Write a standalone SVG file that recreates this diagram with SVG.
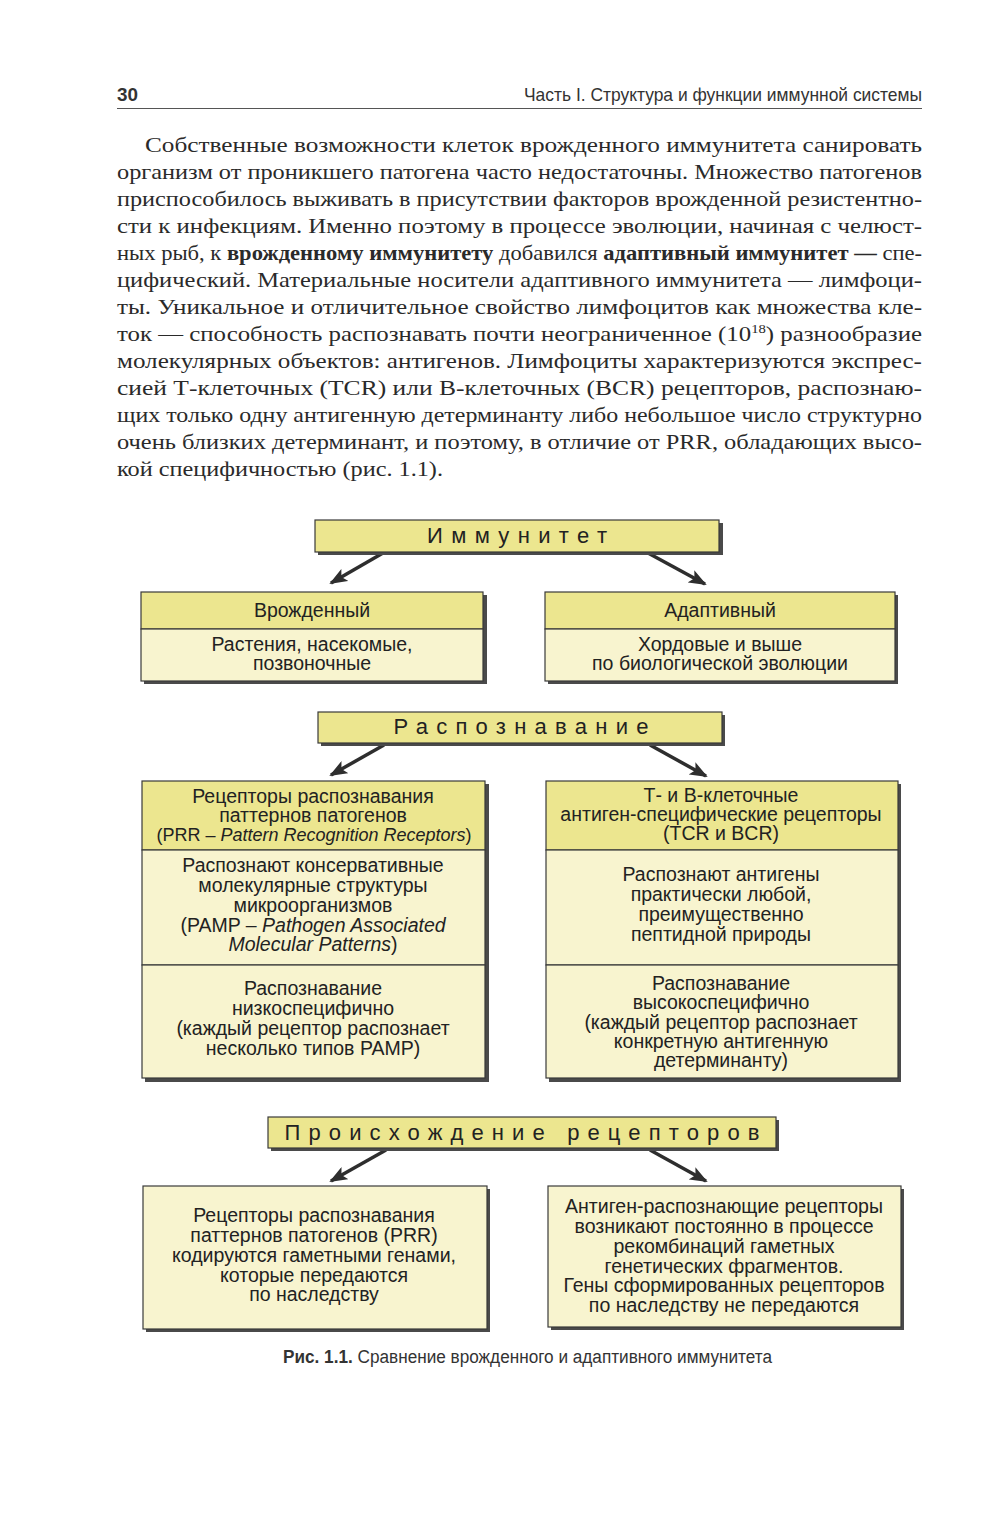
<svg xmlns="http://www.w3.org/2000/svg" width="1000" height="1527" viewBox="0 0 1000 1527">
<style>
.para{font-family:"Liberation Serif","Times New Roman",serif;font-size:22px;fill:#2a2a2a}
.b{font-weight:bold}
.hdr{font-family:"Liberation Sans",Arial,sans-serif;font-size:19px;fill:#333}
.ttl{font-family:"Liberation Sans",Arial,sans-serif;font-size:22px;fill:#222;text-anchor:middle}
.bx{font-family:"Liberation Sans",Arial,sans-serif;font-size:19.5px;fill:#222;text-anchor:middle}
.sm{font-size:18px}
.it{font-style:italic}
.head{fill:#ece68f;stroke:#3a3a3a;stroke-width:1.2}
.body{fill:#f8f4cf;stroke:#3a3a3a;stroke-width:1.2}
.shadow{fill:#4a4a4a}
.conn{stroke:#2e2e2e;stroke-width:3.5;fill:none;marker-end:url(#ah)}
.cap{font-family:"Liberation Sans",Arial,sans-serif;font-size:18px;fill:#333}
</style>
<defs>
<marker id="ah" viewBox="0 0 18 14" refX="16" refY="7" markerWidth="18" markerHeight="14" markerUnits="userSpaceOnUse" orient="auto">
<path d="M0,0 L18,7 L0,14 L4,7 z" fill="#2e2e2e"/>
</marker>
</defs>
<rect width="1000" height="1527" fill="#ffffff"/>

<!-- page header -->
<g id="page-header">
<text x="117" y="101" class="hdr b" textLength="21" lengthAdjust="spacingAndGlyphs">30</text>
<text x="524" y="101" class="hdr" textLength="398" lengthAdjust="spacingAndGlyphs">Часть I. Структура и функции иммунной системы</text>
<line x1="117" y1="108.5" x2="922" y2="108.5" stroke="#555" stroke-width="1.2"/>
</g>

<!-- paragraph -->
<g id="paragraph" class="para">
<text x="145" y="152" textLength="777" lengthAdjust="spacingAndGlyphs">Собственные возможности клеток врожденного иммунитета санировать</text>
<text x="117" y="179" textLength="805" lengthAdjust="spacingAndGlyphs">организм от проникшего патогена часто недостаточны. Множество патогенов</text>
<text x="117" y="206" textLength="805" lengthAdjust="spacingAndGlyphs">приспособилось выживать в присутствии факторов врожденной резистентно-</text>
<text x="117" y="233" textLength="805" lengthAdjust="spacingAndGlyphs">сти к инфекциям. Именно поэтому в процессе эволюции, начиная с челюст-</text>
<text x="117" y="260" textLength="805" lengthAdjust="spacingAndGlyphs">ных рыб, к <tspan class="b">врожденному иммунитету</tspan> добавился <tspan class="b">адаптивный иммунитет —</tspan> спе-</text>
<text x="117" y="287" textLength="805" lengthAdjust="spacingAndGlyphs">цифический. Материальные носители адаптивного иммунитета — лимфоци-</text>
<text x="117" y="314" textLength="805" lengthAdjust="spacingAndGlyphs">ты. Уникальное и отличительное свойство лимфоцитов как множества кле-</text>
<text x="117" y="341" textLength="805" lengthAdjust="spacingAndGlyphs">ток — способность распознавать почти неограниченное (10<tspan dy="-8" font-size="13">18</tspan><tspan dy="8">) разнообразие</tspan></text>
<text x="117" y="368" textLength="805" lengthAdjust="spacingAndGlyphs">молекулярных объектов: антигенов. Лимфоциты характеризуются экспрес-</text>
<text x="117" y="395" textLength="805" lengthAdjust="spacingAndGlyphs">сией Т-клеточных (TCR) или В-клеточных (BCR) рецепторов, распознаю-</text>
<text x="117" y="422" textLength="805" lengthAdjust="spacingAndGlyphs">щих только одну антигенную детерминанту либо небольшое число структурно</text>
<text x="117" y="449" textLength="805" lengthAdjust="spacingAndGlyphs">очень близких детерминант, и поэтому, в отличие от PRR, обладающих высо-</text>
<text x="117" y="476" textLength="326" lengthAdjust="spacingAndGlyphs">кой специфичностью (рис. 1.1).</text>
</g>

<!-- connectors -->
<g id="connectors">
<line class="conn" x1="383" y1="553" x2="331" y2="583"/>
<line class="conn" x1="648" y1="553" x2="705" y2="584"/>
<line class="conn" x1="384" y1="745" x2="331" y2="775"/>
<line class="conn" x1="650" y1="745" x2="706" y2="776"/>
<line class="conn" x1="386" y1="1150" x2="331" y2="1181"/>
<line class="conn" x1="650" y1="1150" x2="706" y2="1181"/>
</g>

<!-- Иммунитет -->
<g id="n-immunity">
<rect class="shadow" x="318" y="523" width="405" height="32"/>
<rect class="head" x="315" y="520" width="404" height="32"/>
<text class="ttl" x="517" y="543" textLength="180" lengthAdjust="spacing">Иммунитет</text>
</g>

<!-- Врожденный -->
<g id="n-innate">
<rect class="shadow" x="144" y="595" width="343" height="89"/>
<rect class="head" x="141" y="592" width="342" height="37"/>
<rect class="body" x="141" y="629" width="342" height="52"/>
<text class="bx" x="312" y="617">Врожденный</text>
<text class="bx" x="312" y="651">Растения, насекомые,</text>
<text class="bx" x="312" y="670">позвоночные</text>
</g>

<!-- Адаптивный -->
<g id="n-adaptive">
<rect class="shadow" x="548" y="595" width="350" height="89"/>
<rect class="head" x="545" y="592" width="350" height="37"/>
<rect class="body" x="545" y="629" width="350" height="52"/>
<text class="bx" x="720" y="617">Адаптивный</text>
<text class="bx" x="720" y="651">Хордовые и выше</text>
<text class="bx" x="720" y="670">по биологической эволюции</text>
</g>

<!-- Распознавание -->
<g id="n-recognition">
<rect class="shadow" x="321" y="715" width="404" height="31"/>
<rect class="head" x="318" y="712" width="404" height="31"/>
<text class="ttl" x="521" y="734" textLength="255" lengthAdjust="spacing">Распознавание</text>
</g>

<!-- PRR -->
<g id="n-prr">
<rect class="shadow" x="145" y="784" width="344" height="298"/>
<rect class="head" x="142" y="781" width="343" height="69"/>
<rect class="body" x="142" y="850" width="343" height="115"/>
<rect class="body" x="142" y="965" width="343" height="113"/>
<text class="bx" x="313" y="803">Рецепторы распознавания</text>
<text class="bx" x="313" y="822">паттернов патогенов</text>
<text class="bx sm" x="314" y="841">(PRR – <tspan class="it">Pattern Recognition Receptors</tspan>)</text>
<text class="bx" x="313" y="872">Распознают консервативные</text>
<text class="bx" x="313" y="892">молекулярные структуры</text>
<text class="bx" x="313" y="912">микроорганизмов</text>
<text class="bx" x="313" y="932">(PAMP – <tspan class="it">Pathogen Associated</tspan></text>
<text class="bx" x="313" y="951"><tspan class="it">Molecular Patterns</tspan>)</text>
<text class="bx" x="313" y="995">Распознавание</text>
<text class="bx" x="313" y="1015">низкоспецифично</text>
<text class="bx" x="313" y="1035">(каждый рецептор распознает</text>
<text class="bx" x="313" y="1055">несколько типов PAMP)</text>
</g>

<!-- TCR/BCR -->
<g id="n-tcr-bcr">
<rect class="shadow" x="549" y="784" width="352" height="298"/>
<rect class="head" x="546" y="781" width="352" height="69"/>
<rect class="body" x="546" y="850" width="352" height="115"/>
<rect class="body" x="546" y="965" width="352" height="113"/>
<text class="bx" x="721" y="802">Т- и В-клеточные</text>
<text class="bx" x="721" y="821">антиген-специфические рецепторы</text>
<text class="bx" x="721" y="840">(TCR и BCR)</text>
<text class="bx" x="721" y="881">Распознают антигены</text>
<text class="bx" x="721" y="901">практически любой,</text>
<text class="bx" x="721" y="921">преимущественно</text>
<text class="bx" x="721" y="941">пептидной природы</text>
<text class="bx" x="721" y="990">Распознавание</text>
<text class="bx" x="721" y="1009">высокоспецифично</text>
<text class="bx" x="721" y="1029">(каждый рецептор распознает</text>
<text class="bx" x="721" y="1048">конкретную антигенную</text>
<text class="bx" x="721" y="1067">детерминанту)</text>
</g>

<!-- Происхождение рецепторов -->
<g id="n-origin">
<rect class="shadow" x="271" y="1120" width="508" height="31"/>
<rect class="head" x="268" y="1117" width="508" height="31"/>
<text class="ttl" x="522" y="1140" textLength="475" lengthAdjust="spacing">Происхождение рецепторов</text>
</g>

<!-- bottom left -->
<g id="n-origin-prr">
<rect class="shadow" x="146" y="1189" width="344" height="143"/>
<rect class="body" x="143" y="1186" width="344" height="143"/>
<text class="bx" x="314" y="1222">Рецепторы распознавания</text>
<text class="bx" x="314" y="1242">паттернов патогенов (PRR)</text>
<text class="bx" x="314" y="1262">кодируются гаметными генами,</text>
<text class="bx" x="314" y="1282">которые передаются</text>
<text class="bx" x="314" y="1301">по наследству</text>
</g>

<!-- bottom right -->
<g id="n-origin-antigen">
<rect class="shadow" x="551" y="1189" width="353" height="141"/>
<rect class="body" x="548" y="1186" width="353" height="141"/>
<text class="bx" x="724" y="1213">Антиген-распознающие рецепторы</text>
<text class="bx" x="724" y="1233">возникают постоянно в процессе</text>
<text class="bx" x="724" y="1253">рекомбинаций гаметных</text>
<text class="bx" x="724" y="1273">генетических фрагментов.</text>
<text class="bx" x="724" y="1292">Гены сформированных рецепторов</text>
<text class="bx" x="724" y="1312">по наследству не передаются</text>
</g>

<!-- caption -->
<g id="caption">
<text class="cap" x="283" y="1363" textLength="489" lengthAdjust="spacingAndGlyphs"><tspan class="b">Рис. 1.1.</tspan> Сравнение врожденного и адаптивного иммунитета</text>
</g>
</svg>
